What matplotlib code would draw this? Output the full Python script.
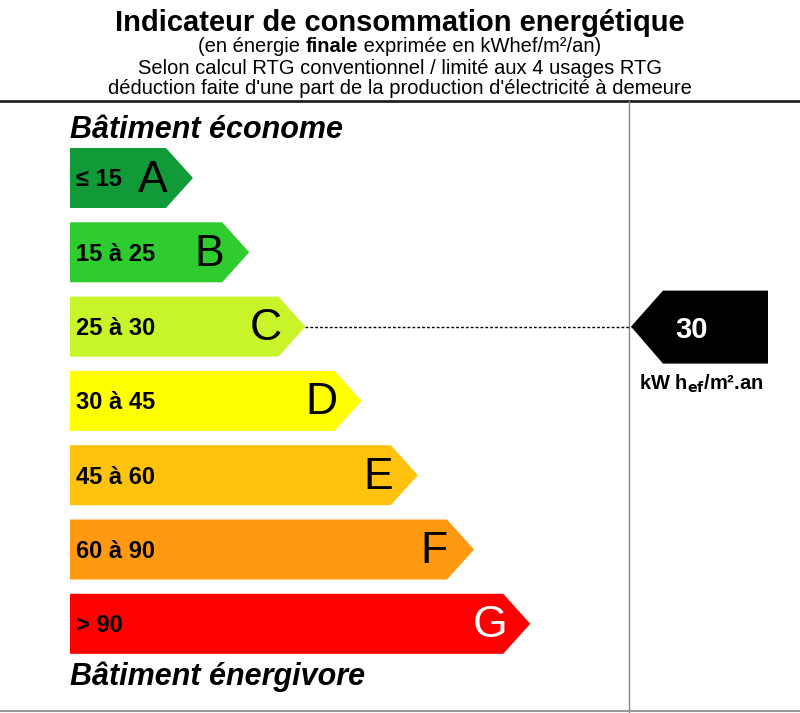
import numpy as np
import matplotlib.pyplot as plt
from matplotlib.patches import Polygon

plt.rcParams['font.family'] = ['Liberation Sans', 'DejaVu Sans']

classes = ['A', 'B', 'C', 'D', 'E', 'F', 'G']
ranges = ['≤ 15', '15 à 25', '25 à 30', '30 à 45', '45 à 60', '60 à 90', '> 90']
colors = ['#109a38', '#2ecc2e', '#c8f52a', '#ffff00', '#ffc20e', '#ff9912', '#ff0000']
letter_colors = ['black'] * 6 + ['white']
value = 30
value_class = 'C'

fig = plt.figure(figsize=(8, 7.13), dpi=100)
ax = fig.add_axes([0, 0, 1, 1])
ax.set_xlim(0, 800)
ax.set_ylim(713, 0)
ax.axis('off')

# header
ax.text(400, 23, 'Indicateur de consommation energétique', ha='center', va='center',
        fontsize=21, fontweight='bold')

# first subtitle line with "finale" in bold, built from pieces
parts = [('(en énergie ', 'normal'), ('finale', 'bold'), (' exprimée en kWhef/m²/an)', 'normal')]
r = fig.canvas.get_renderer()
objs = [ax.text(0, 47, s, ha='left', va='center', fontsize=14.5, fontweight=w) for s, w in parts]
widths = [o.get_window_extent(r).width for o in objs]
x = 400 - sum(widths) / 2
for o, w in zip(objs, widths):
    o.set_x(x)
    x += w

ax.text(400, 68, 'Selon calcul RTG conventionnel / limité aux 4 usages RTG', ha='center',
        va='center', fontsize=14.5)
ax.text(400, 88, "déduction faite d'une part de la production d'électricité à demeure",
        ha='center', va='center', fontsize=14.5)
ax.plot([0, 800], [101, 101], color='#222222', lw=2)
ax.plot([629, 629], [101, 713], color='#888888', lw=1)
ax.plot([0, 800], [711, 711], color='#999999', lw=1.5)

ax.text(70, 130, 'Bâtiment économe', ha='left', va='center', fontsize=22,
        fontweight='bold', fontstyle='italic')
ax.text(70, 677, 'Bâtiment énergivore', ha='left', va='center', fontsize=22,
        fontweight='bold', fontstyle='italic')

# class arrows
x0 = 70
h = 60
for i, (c, rg, col, lc) in enumerate(zip(classes, ranges, colors, letter_colors)):
    top = 148 + 74.3 * i
    tip = 193 + 56.2 * i
    body = tip - 27
    mid = top + h / 2
    pts = [(x0, top), (body, top), (tip, mid), (body, top + h), (x0, top + h)]
    ax.add_patch(Polygon(pts, closed=True, facecolor=col, edgecolor='none'))
    ax.text(x0 + 6, mid + 2, rg, ha='left', va='center', fontsize=17, fontweight='bold')
    ax.text(tip - 40, mid + 2, c, ha='center', va='center', fontsize=32, color=lc)
    if c == value_class:
        ax.plot([tip, 631], [mid, mid], color='black', lw=1, ls=(0, (2, 1.5)))
        mk = [(631, mid), (663, mid - 36), (768, mid - 36), (768, mid + 37), (663, mid + 37)]
        ax.add_patch(Polygon(mk, closed=True, facecolor='black', edgecolor='none'))
        ax.text(692, mid + 3, str(value), ha='center', va='center', fontsize=21,
                fontweight='bold', color='white')
        ax.text(701, mid + 57, r'kW h$_{\mathbf{ef}}$/m².an', ha='center', va='center',
                fontsize=14.5, fontweight='bold')

fig.savefig('out.png', dpi=100)
